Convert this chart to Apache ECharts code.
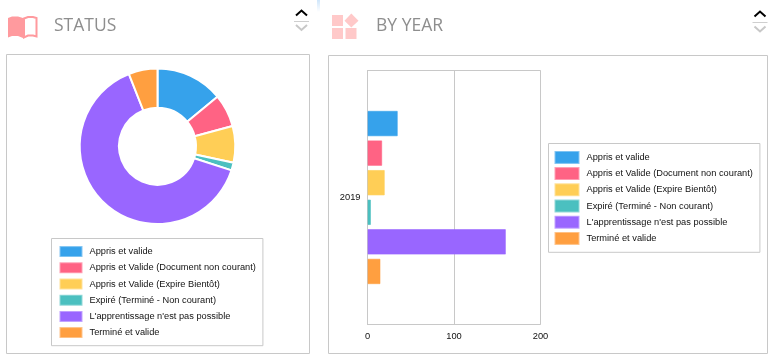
<!DOCTYPE html>
<html>
<head>
<meta charset="utf-8">
<style>html,body{margin:0;padding:0;background:#fff}#c{width:776px;height:359px}</style>
<script src="https://cdn.jsdelivr.net/npm/echarts@6/dist/echarts.min.js"></script>
</head>
<body>
<div id="c"></div>
<script>
const categories = ["Appris et valide","Appris et Valide (Document non courant)","Appris et Valide (Expire Bientôt)","Expiré (Terminé - Non courant)","L'apprentissage n'est pas possible","Terminé et valide"];
const colors = ["#36A2EB","#FF6384","#FFCE56","#4BC0C0","#9966FF","#FF9F40"];
const borders = ["rgba(54,162,235,.6)","rgba(255,99,132,.6)","rgba(255,206,86,.6)","rgba(75,192,192,.6)","rgba(153,102,255,.6)","rgba(255,159,64,.6)"];
const statusValues = [35,17,19,4,160,15];
const yearValues = [35,17,20,4,160,15];
const years = ["2019"];
const xTicks = {min:0,max:200,interval:100};
const grayLine = "#c8c8c8";
const font = "'Liberation Sans', Arial, sans-serif";

function frame(x,y,w,h){return {type:'rect',silent:true,shape:{x:x,y:y,width:w,height:h},style:{fill:'none',stroke:grayLine,lineWidth:1}};}
function chevrons(cx,yUp,yLine,yDown){return [
 {type:'polyline',silent:true,shape:{points:[[cx-5.5,yUp+5],[cx,yUp],[cx+5.5,yUp+5]]},style:{fill:'none',stroke:'#000',lineWidth:2}},
 {type:'line',silent:true,shape:{x1:cx-7.5,y1:yLine,x2:cx+7.5,y2:yLine},style:{stroke:'#cfcfcf',lineWidth:1}},
 {type:'polyline',silent:true,shape:{points:[[cx-5.5,yDown],[cx,yDown+5],[cx+5.5,yDown]]},style:{fill:'none',stroke:'#c8c8c8',lineWidth:2}}
];}
const pink='#ff9a9e', pale='#ffc9c9';
const graphics = [
 frame(6.5,54.5,303,299),
 frame(328.5,55.5,439,298),
 {type:'rect',silent:true,shape:{x:317,y:0,width:3,height:12},style:{fill:new echarts.graphic.LinearGradient(0,0,0,1,[{offset:0,color:'#cfe6fb'},{offset:1,color:'#ffffff'}])}},
 {type:'text',silent:true,style:{x:54,y:26.5,text:'STATUS',fill:'#8e8e8e',font:"17.5px 'Open Sans', sans-serif",textVerticalAlign:'middle'}},
 {type:'text',silent:true,style:{x:376,y:26.5,text:'BY YEAR',fill:'#8e8e8e',font:"17.5px 'Open Sans', sans-serif",textVerticalAlign:'middle'}},
 {type:'polygon',silent:true,shape:{points:[[8,18],[12,16.5],[18,16.5],[23,18],[23,38],[18,36],[12,36],[8,37.5]]},style:{fill:pink}},
 {type:'polygon',silent:true,shape:{points:[[24,18.5],[28,17],[33,17],[36.5,18],[36.5,36.5],[33,35.5],[28,35.5],[24,37.5]]},style:{fill:'#fff',stroke:pink,lineWidth:2}},
 {type:'rect',silent:true,shape:{x:332,y:15,width:11,height:11},style:{fill:pale}},
 {type:'rect',silent:true,shape:{x:332,y:28,width:11,height:11},style:{fill:pale}},
 {type:'rect',silent:true,shape:{x:345.5,y:28,width:11,height:11},style:{fill:pale}},
 {type:'polygon',silent:true,shape:{points:[[351.3,13.5],[358.5,20.7],[351.3,27.5],[344.5,20.7]]},style:{fill:pale}},
 ...chevrons(301.5,10.5,21.5,25),
 ...chevrons(760,11.5,22.5,26.5)
];
function legend(left,top,iw,ih,padL,gap,padT){return {
 left:left,top:top,orient:'vertical',icon:'rect',data:categories,
 itemWidth:iw,itemHeight:ih,itemGap:gap,padding:[padT,7,padT,padL],
 borderColor:grayLine,borderWidth:1,selectedMode:false,
 textStyle:{color:'#111',fontFamily:font,fontSize:9.25,lineHeight:10,padding:[0,0,0,3]}
};}
const barSeries = categories.map((name,i)=>({
 type:'bar',name:name,data:[yearValues[i]],barWidth:25.5,barGap:'16%',
 itemStyle:{color:colors[i],borderColor:borders[i],borderWidth:1},
 animation:false,silent:true
}));
const chart = echarts.init(document.getElementById('c'),null,{renderer:'canvas'});
chart.setOption({
 animation:false,
 graphic:graphics,
 legend:[legend(51.5,238.5,21,9,8,5.2,7.6),legend(548.5,143.5,23,11,6,3.2,7.4)],
 grid:{left:367.5,top:70.5,width:173,height:254,show:true,borderColor:grayLine,borderWidth:1,containLabel:false},
 xAxis:{type:'value',min:xTicks.min,max:xTicks.max,interval:xTicks.interval,
  axisLine:{show:false},axisTick:{show:false},splitLine:{show:true,lineStyle:{color:grayLine,width:1}},
  axisLabel:{color:'#111',fontFamily:font,fontSize:9.3,margin:7.5}},
 yAxis:{type:'category',data:years,
  axisLine:{show:true,lineStyle:{color:grayLine}},axisTick:{show:false},splitLine:{show:false},
  axisLabel:{color:'#111',fontFamily:font,fontSize:9.3,margin:7}},
 series:[
  {type:'pie',name:'Status',center:[157.5,146.3],radius:[38.5,77.8],startAngle:90,clockwise:true,
   label:{show:false},labelLine:{show:false},silent:true,animation:false,
   itemStyle:{borderColor:'#fff',borderWidth:2},
   data:categories.map((name,i)=>({name:name,value:statusValues[i],itemStyle:{color:colors[i]}}))},
  ...barSeries
 ]
});
</script>
</body>
</html>
